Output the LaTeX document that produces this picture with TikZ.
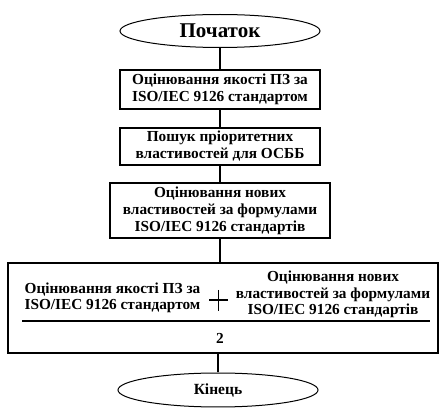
\documentclass[tikz,border=0pt]{standalone}
\usepackage{fontspec}
\setmainfont{Liberation Serif}
\usetikzlibrary{shapes.geometric}
\begin{document}
\begin{tikzpicture}[x=1pt,y=-1pt,
  term/.style={draw,ellipse,line width=1pt,minimum width=200pt,minimum height=33pt,inner sep=0pt,font=\bfseries\fontsize{15.5}{17}\selectfont},
  proc/.style={draw,line width=1.5pt,inner sep=0pt,align=center,font=\bfseries\fontsize{15.3}{17}\selectfont},
  txt/.style={inner sep=0pt,align=center,font=\bfseries\fontsize{15.3}{16.5}\selectfont},
  conn/.style={line width=1.5pt}]
\useasboundingbox (0,0) rectangle (440,409);
\node[term,font=\bfseries\fontsize{21}{23}\selectfont] (start) at (220,31) {Початок};
\node[proc,minimum width=200pt,minimum height=39pt] (b1) at (220,89.5) {Оцінювання якості ПЗ за\\ISO/IEC 9126 стандартом};
\node[proc,minimum width=200pt,minimum height=37pt] (b2) at (220,146.5) {Пошук пріоритетних\\властивостей для ОСББ};
\node[proc,minimum width=220pt,minimum height=55pt] (b3) at (220,210.5) {Оцінювання нових\\властивостей за формулами\\ISO/IEC 9126 стандартів};
\node[draw,line width=1.5pt,minimum width=430pt,minimum height=90pt,inner sep=0pt] (big) at (223,308) {};
\node[txt] (left) at (112.5,298) {Оцінювання якості ПЗ за\\ISO/IEC 9126 стандартом};
\node[txt] (right) at (333,294.5) {Оцінювання нових\\властивостей за формулами\\ISO/IEC 9126 стандартів};
\node[txt] (two) at (220,338) {2};
\coordinate (pl) at (209,300); \coordinate (pr) at (228,300);
\coordinate (pt) at (218.5,290); \coordinate (pb) at (218.5,311);
\draw[line width=1.5pt] (pl) -- (pr) (pt) -- (pb);
\coordinate (hl) at (22,321); \coordinate (hr) at (430,321);
\draw[line width=1.5pt] (hl) -- (hr);
\node[term,minimum height=34pt] (end) at (218,390) {Кінець};
\draw[conn] (start) -- (b1);
\draw[conn] (b1) -- (b2);
\draw[conn] (b2) -- (b3);
\draw[conn] (b3) -- (b3 |- big.north);
\draw[conn] (big.south -| end) -- (end);
\end{tikzpicture}
\end{document}
